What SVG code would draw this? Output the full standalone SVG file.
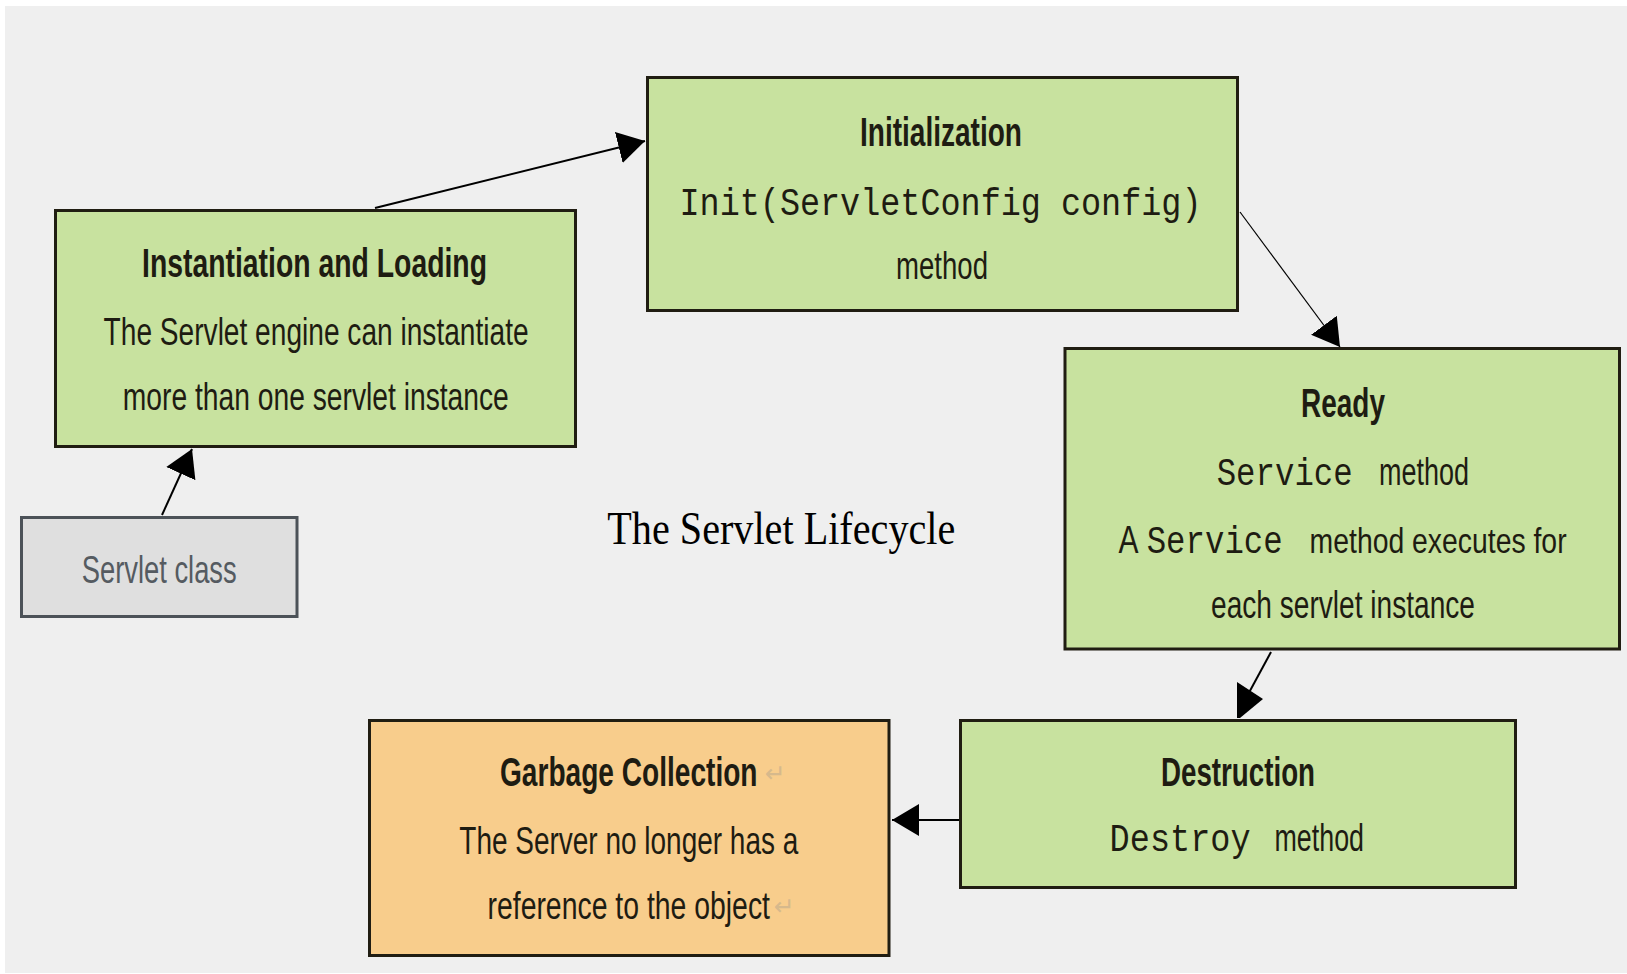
<svg xmlns="http://www.w3.org/2000/svg" width="1627" height="974" viewBox="0 0 1627 974">
  <style>
    .box { stroke: #201d12; stroke-width: 3; }
    .green { fill: #c8e29f; }
    .orange { fill: #f8cd8c; }
    .grey { fill: #dfdfdf; stroke: #4c5258; stroke-width: 3; }
    .bold { font-family: "Liberation Sans Narrow", "Liberation Sans", Arial, sans-serif; font-weight: bold; font-size: 40px; fill: #1e1c12; }
    .body { font-family: "Liberation Sans Narrow", "Liberation Sans", Arial, sans-serif; font-size: 38px; fill: #1e1c12; }
    .mono { font-family: "Liberation Mono", "DejaVu Sans Mono", monospace; font-size: 38px; fill: #1e1c12; }
    .mark { font-family: "DejaVu Sans", sans-serif; font-size: 25px; fill: #d6b98c; }
    .caption { font-family: "Liberation Serif", "Times New Roman", serif; font-size: 47px; fill: #000; }
    .link { fill: none; stroke: #000; stroke-width: 2; }
    .thin { stroke-width: 1.2; }
  </style>
  <defs>
    <marker id="arrow" viewBox="0 0 27 32" refX="27" refY="16" markerWidth="27" markerHeight="32" markerUnits="userSpaceOnUse" orient="auto">
      <path d="M0,0 L27,16 L0,32 Z" fill="#000"/>
    </marker>
    <marker id="arrow-flat" viewBox="0 0 27 36" refX="8" refY="18" markerWidth="27" markerHeight="36" markerUnits="userSpaceOnUse" orient="0">
      <path d="M0,0 L26,17 L3,36 L0,36 Z" fill="#000"/>
    </marker>
  </defs>

  <!-- page -->
  <rect x="0" y="0" width="1627" height="974" fill="#ffffff"/>
  <rect x="5" y="6" width="1622" height="967" fill="#efefef"/>

  <!-- connectors -->
  <g id="connectors">
    <path class="link" d="M375,208 L645,141" marker-end="url(#arrow)"/>
    <path class="link thin" d="M1240,212 L1340,347" marker-end="url(#arrow)"/>
    <path class="link" d="M1271,652 L1245,700" marker-end="url(#arrow-flat)"/>
    <path class="link" d="M959,820 L892,820" marker-end="url(#arrow)"/>
    <path class="link" d="M162,515 L192,449" marker-end="url(#arrow)"/>
  </g>

  <g id="servlet-class">
    <rect class="grey" x="21.5" y="517.5" width="275.5" height="99"/>
    <text class="body" x="81.7" y="583.3" textLength="155" lengthAdjust="spacingAndGlyphs" style="fill:#555b61">Servlet class</text>
  </g>

  <g id="instantiation">
    <rect class="box green" x="55.5" y="210.5" width="520" height="236"/>
    <text class="bold" x="142" y="277" textLength="345" lengthAdjust="spacingAndGlyphs">Instantiation and Loading</text>
    <text class="body" x="103.6" y="345" textLength="425" lengthAdjust="spacingAndGlyphs">The Servlet engine can instantiate</text>
    <text class="body" x="122.8" y="410" textLength="386" lengthAdjust="spacingAndGlyphs">more than one servlet instance</text>
  </g>

  <g id="initialization">
    <rect class="box green" x="647.5" y="77.5" width="590" height="233"/>
    <text class="bold" x="860" y="146" textLength="162" lengthAdjust="spacingAndGlyphs">Initialization</text>
    <text class="mono" x="679.5" y="215" textLength="522" lengthAdjust="spacingAndGlyphs">Init(ServletConfig config)</text>
    <text class="body" x="896" y="279" textLength="92" lengthAdjust="spacingAndGlyphs">method</text>
  </g>

  <g id="ready">
    <rect class="box green" x="1065" y="348.5" width="554.5" height="300.5"/>
    <text class="bold" x="1301" y="416.7" textLength="84" lengthAdjust="spacingAndGlyphs">Ready</text>
    <text class="mono" x="1216.7" y="485" textLength="136" lengthAdjust="spacingAndGlyphs">Service</text>
    <text class="body" x="1379" y="485" textLength="90" lengthAdjust="spacingAndGlyphs">method</text>
    <text class="body" x="1118.6" y="553" textLength="20" lengthAdjust="spacingAndGlyphs">A</text>
    <text class="mono" x="1146.7" y="553" textLength="136" lengthAdjust="spacingAndGlyphs">Service</text>
    <text class="body" x="1309.6" y="553" textLength="257" lengthAdjust="spacingAndGlyphs" style="font-size:35px">method executes for</text>
    <text class="body" x="1211" y="618" textLength="264" lengthAdjust="spacingAndGlyphs">each servlet instance</text>
  </g>

  <g id="destruction">
    <rect class="box green" x="960.5" y="720.5" width="555" height="167"/>
    <text class="bold" x="1161" y="785.7" textLength="154" lengthAdjust="spacingAndGlyphs">Destruction</text>
    <text class="mono" x="1109.6" y="850.7" textLength="141" lengthAdjust="spacingAndGlyphs">Destroy</text>
    <text class="body" x="1274.5" y="850.7" textLength="89.5" lengthAdjust="spacingAndGlyphs">method</text>
  </g>

  <g id="garbage-collection">
    <rect class="box orange" x="369.5" y="720.5" width="519.5" height="235"/>
    <text class="bold" x="500" y="786" textLength="257.5" lengthAdjust="spacingAndGlyphs">Garbage Collection</text>
    <text class="mark" x="765" y="782">↵</text>
    <text class="body" x="459.3" y="854.3" textLength="339" lengthAdjust="spacingAndGlyphs">The Server no longer has a</text>
    <text class="body" x="487.5" y="919.3" textLength="282.5" lengthAdjust="spacingAndGlyphs">reference to the object</text>
    <text class="mark" x="774" y="915">↵</text>
  </g>

  <g id="caption">
    <text class="caption" x="607.3" y="544" textLength="348" lengthAdjust="spacingAndGlyphs">The Servlet Lifecycle</text>
  </g>
</svg>
